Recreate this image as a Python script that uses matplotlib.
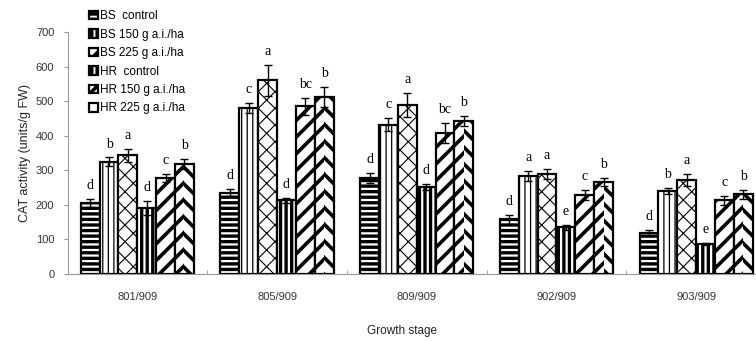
import matplotlib
matplotlib.use("Agg")
import matplotlib.pyplot as plt
import numpy as np

plt.rcParams['font.family'] = ['Liberation Sans', 'DejaVu Sans']

stages = ["801/909", "805/909", "809/909", "902/909", "903/909"]
treatments = ["BS  control", "BS 150 g a.i./ha", "BS 225 g a.i./ha",
              "HR  control", "HR 150 g a.i./ha", "HR 225 g a.i./ha"]

# CAT activity, one list per treatment (units/g FW)
bs_control = [205, 235, 278, 158, 118]
bs_150 = [325, 480, 432, 283, 240]
bs_225 = [343, 560, 488, 290, 272]
hr_control = [190, 213, 252, 135, 87]
hr_150 = [278, 485, 408, 228, 213]
hr_225 = [318, 512, 443, 267, 230]

bs_control_err = [12, 10, 14, 12, 8]
bs_150_err = [12, 15, 18, 15, 9]
bs_225_err = [18, 45, 35, 15, 18]
hr_control_err = [20, 8, 8, 8, 3]
hr_150_err = [12, 25, 30, 15, 12]
hr_225_err = [15, 28, 15, 12, 12]

letters = [["d", "d", "d", "d", "d"],
           ["b", "c", "c", "a", "b"],
           ["a", "a", "a", "a", "a"],
           ["d", "d", "d", "e", "e"],
           ["c", "bc", "bc", "c", "c"],
           ["b", "b", "b", "b", "b"]]

values = [bs_control, bs_150, bs_225, hr_control, hr_150, hr_225]
errors = [bs_control_err, bs_150_err, bs_225_err, hr_control_err, hr_150_err, hr_225_err]
# hatch, hatch linewidth
styles = [("---", 2.4), ("|||", 0.9), ("xx", 0.8), ("|||", 2.4), ("//", 2.6), (None, 2.6)]

fig = plt.figure(figsize=(7.56, 3.41), dpi=100)
ax = fig.add_axes([67.5 / 756, 67 / 341, 698.5 / 756, 242 / 341])

x = np.arange(len(stages))
w = 0.135
handles = []
for i, (vals, errs) in enumerate(zip(values, errors)):
    pos = x + (i - 2.5) * w
    hatch, hlw = styles[i]
    plt.rcParams['hatch.linewidth'] = hlw
    if hatch is None:
        # herringbone: two halves with opposite diagonals
        ax.bar(pos - w / 4, vals, w / 2, color="white", edgecolor="black",
               linewidth=0, hatch="//")
        ax.bar(pos + w / 4, vals, w / 2, color="white", edgecolor="black",
               linewidth=0, hatch="\\\\")
        b = ax.bar(pos, vals, w, color="none", edgecolor="black", linewidth=1.6,
                   label=treatments[i])
    else:
        b = ax.bar(pos, vals, w, color="white", edgecolor="black", linewidth=1.6,
                   hatch=hatch, label=treatments[i])
    handles.append(b)
    ax.errorbar(pos, vals, yerr=errs, fmt="none", ecolor="black", elinewidth=1,
                capsize=3, capthick=1)
    for j in range(len(stages)):
        ax.annotate(letters[i][j], (pos[j], vals[j] + errs[j]), xytext=(0, 5),
                    textcoords="offset points", ha="center", va="bottom",
                    fontsize=10, family="Liberation Serif")

ax.set_xlim(-0.5, 4.5)
ax.set_ylim(0, 700)
ax.set_yticks(range(0, 701, 100))
ax.set_xticks(x)
ax.set_xticklabels(stages)
ax.set_xticks(np.arange(0.5, 4.5, 1), minor=True)
ax.tick_params(axis="x", which="major", length=0, pad=13, labelsize=8, colors="#333333")
ax.tick_params(axis="x", which="minor", length=3, direction="in", color="#999999")
ax.tick_params(axis="y", length=3, color="#999999", labelsize=8, labelcolor="#333333", pad=6.5)
for s in ["top", "right"]:
    ax.spines[s].set_visible(False)
for s in ["left", "bottom"]:
    ax.spines[s].set_color("#999999")
    ax.spines[s].set_linewidth(0.8)

ax.set_xlabel("Growth stage", fontsize=8.5, color="#222222", va="center")
ax.xaxis.set_label_coords(0.479, -0.235)
ax.set_ylabel("CAT activity (units/g FW)", fontsize=9, color="#222222", va="center")
ax.yaxis.set_label_coords(-0.061, 0.5)

fig.legend(handles=handles, loc="upper left", bbox_to_anchor=(79 / 756, 1.0),
           frameon=False, fontsize=8.5, handlelength=0.75, handleheight=0.75,
           handletextpad=0.15, labelspacing=0.55, borderaxespad=0.45)

fig.savefig("out.png", dpi=100)
